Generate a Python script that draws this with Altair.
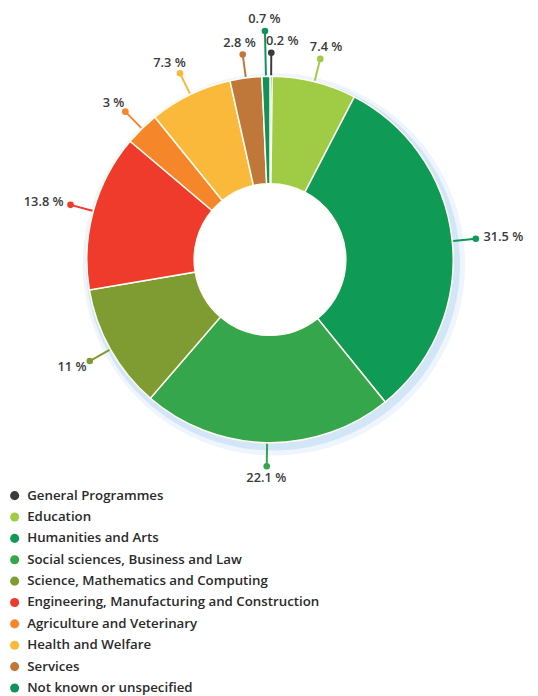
import altair as alt
import pandas as pd

categories = [
    "General Programmes",
    "Education",
    "Humanities and Arts",
    "Social sciences, Business and Law",
    "Science, Mathematics and Computing",
    "Engineering, Manufacturing and Construction",
    "Agriculture and Veterinary",
    "Health and Welfare",
    "Services",
    "Not known or unspecified",
]
shares = [0.2, 7.4, 31.5, 22.1, 11, 13.8, 3, 7.3, 2.8, 0.7]
colors = ["#3b3b3b", "#9fcb45", "#0f9a55", "#35a64b", "#7f9c32",
          "#ee3b2b", "#f5862a", "#fab93a", "#c0773a", "#11925a"]
labels = [f"{v:g} %" for v in shares]

df = pd.DataFrame({"cat": categories, "share": shares, "label": labels,
                   "order": list(range(len(categories)))})

CX, CY = 266, 250
R_OUT, R_IN = 186, 77

color_scale = alt.Scale(domain=categories, range=colors)

base = (
    alt.Chart(df)
    .transform_window(cum="sum(share)", sort=[{"field": "order"}])
    .transform_joinaggregate(total="sum(share)")
    .transform_calculate(
        a="(datum.cum - datum.share / 2) / datum.total * 2 * PI",
        lead="datum.cat == 'Not known or unspecified' ? 46 : 24",
    )
    .transform_calculate(
        x1=f"{CX} + {R_OUT + 1} * sin(datum.a)",
        y1=f"{CY} - {R_OUT + 1} * cos(datum.a)",
        x2=f"{CX} + ({R_OUT} + datum.lead) * sin(datum.a)",
        y2=f"{CY} - ({R_OUT} + datum.lead) * cos(datum.a)",
    )
    .transform_calculate(
        tx="datum.x2 + sin(datum.a) * (length(datum.label) * 3.7 + 6)"
           " + (datum.cat == 'General Programmes' ? 11 : 0)",
        ty="datum.y2 - cos(datum.a) * 12",
    )
)

glow_data = alt.Data(values=[{"g": 1}])
glow_outer = alt.Chart(glow_data).mark_arc(
    theta=0, theta2=6.2832, innerRadius=150, outerRadius=194,
    color="#eef5fd", opacity=1
).encode(x=alt.value(CX + 4), y=alt.value(CY + 5))
glow_inner = alt.Chart(glow_data).mark_arc(
    theta=0, theta2=6.2832, innerRadius=150, outerRadius=190,
    color="#d3e6f8", opacity=1
).encode(x=alt.value(CX + 3), y=alt.value(CY + 4))

arcs = alt.Chart(df).mark_arc(
    innerRadius=R_IN, outerRadius=R_OUT, stroke="#fffdf0", strokeWidth=1.5
).encode(
    theta=alt.Theta("share:Q", stack=True),
    order=alt.Order("order:Q"),
    color=alt.Color(
        "cat:N", scale=color_scale,
        legend=alt.Legend(
            orient="none", legendX=0, legendY=483, title=None,
            symbolType="circle", symbolSize=85, symbolStrokeWidth=0,
            labelFont="Open Sans", labelFontSize=13.5, labelFontWeight=600,
            labelColor="#2a2a2a", rowPadding=6.7, labelLimit=500,
            labelOffset=6,
        ),
    ),
    x=alt.value(CX),
    y=alt.value(CY),
)

rules = base.mark_rule(strokeWidth=2).encode(
    x=alt.X("x1:Q", scale=None), y=alt.Y("y1:Q", scale=None),
    x2="x2:Q", y2="y2:Q",
    color=alt.Color("cat:N", scale=color_scale, legend=None),
)

dots = base.mark_circle(size=45, opacity=1).encode(
    x=alt.X("x2:Q", scale=None), y=alt.Y("y2:Q", scale=None),
    color=alt.Color("cat:N", scale=color_scale, legend=None),
)

texts = base.mark_text(
    font="Open Sans", fontSize=13, fontWeight=600, color="#3a3a3a",
    baseline="middle", align="center"
).encode(
    x=alt.X("tx:Q", scale=None), y=alt.Y("ty:Q", scale=None),
    text="label:N",
)

chart = (
    alt.layer(glow_outer, glow_inner, arcs, rules, dots, texts)
    .properties(width=530, height=700, autosize="none", padding=0)
    .configure_view(stroke=None)
)

chart.save("out.html", embed_options={"renderer": "svg", "actions": False})
